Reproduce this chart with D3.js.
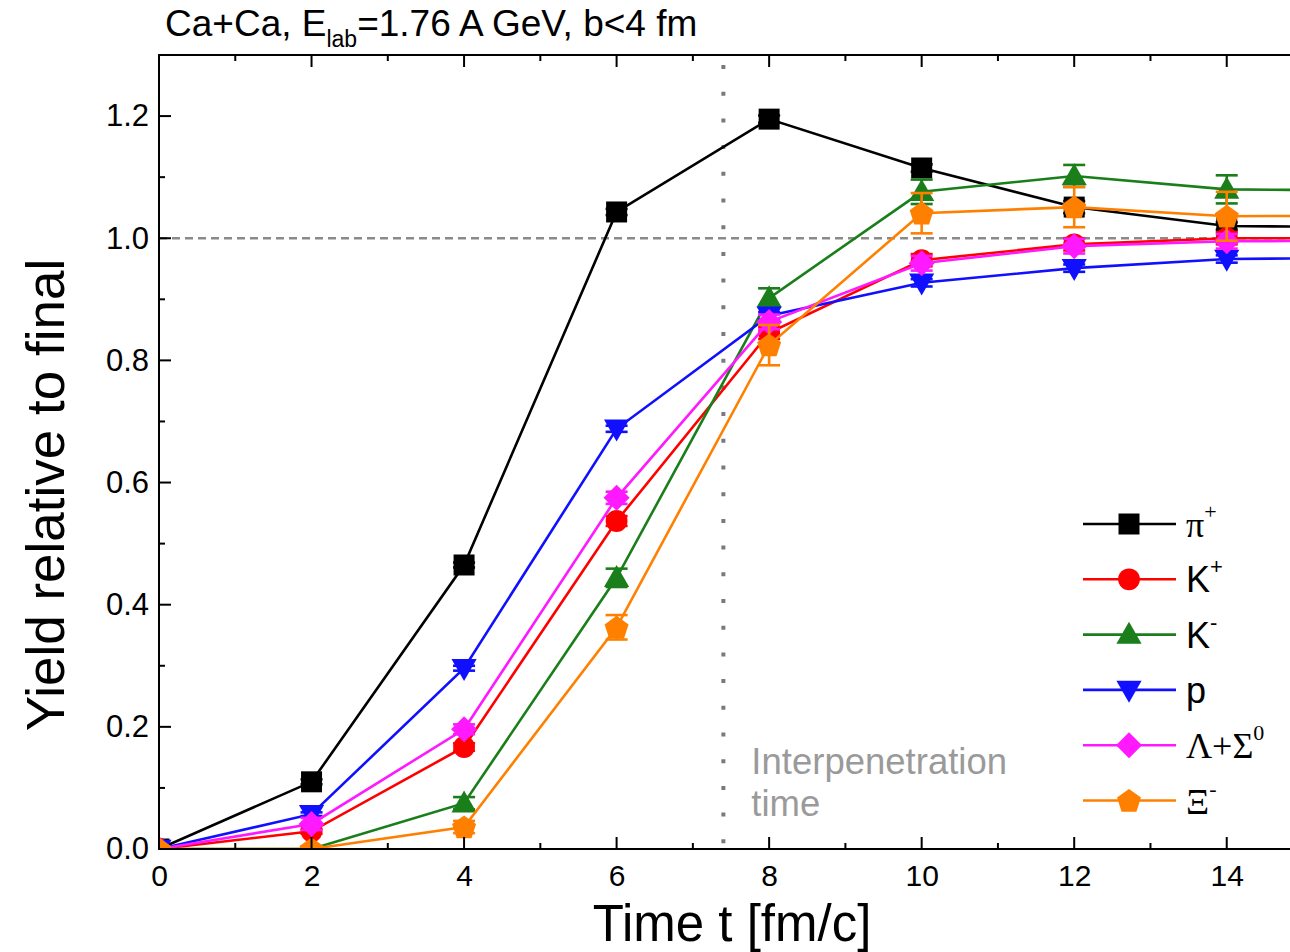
<!DOCTYPE html>
<html>
<head>
<meta charset="utf-8">
<script src="https://cdn.jsdelivr.net/npm/d3@7"></script>
<style>
  html, body { margin: 0; padding: 0; background: #fff; }
  svg { display: block; }
  text { font-family: "Liberation Sans", Arial, sans-serif; }
</style>
</head>
<body>
<svg id="chart" width="1290" height="952"></svg>
<script>
// Time steps (fm/c); the last one lies beyond the visible range
const times = [0, 2, 4, 6, 8, 10, 12, 14, 16];

// Yields relative to final value
const piPlus      = [0, 0.110, 0.465, 1.043, 1.195, 1.115, 1.051, 1.020, 1.018];
const kPlus       = [0, 0.029, 0.167, 0.537, 0.845, 0.964, 0.990, 1.000, 1.000];
const kMinus      = [0, 0.000, 0.075, 0.444, 0.902, 1.076, 1.102, 1.080, 1.078];
const proton      = [0, 0.057, 0.296, 0.688, 0.873, 0.927, 0.951, 0.966, 0.968];
const lambdaSigma = [0, 0.041, 0.196, 0.575, 0.863, 0.959, 0.987, 0.995, 0.996];
const xiMinus     = [0, 0.000, 0.036, 0.363, 0.825, 1.041, 1.051, 1.036, 1.037];

// Statistical errors
const piErr     = [0, 0.004, 0.004, 0.005, 0.006, 0.006, 0.010, 0.006, 0.006];
const kPlusErr  = [0, 0.004, 0.006, 0.008, 0.010, 0.010, 0.010, 0.010, 0.010];
const kMinusErr = [0, 0.004, 0.010, 0.015, 0.016, 0.020, 0.018, 0.023, 0.023];
const pErr      = [0, 0.003, 0.004, 0.005, 0.006, 0.006, 0.006, 0.006, 0.006];
const lamErr    = [0, 0.010, 0.008, 0.010, 0.012, 0.012, 0.012, 0.012, 0.012];
const xiErr     = [0, 0.004, 0.010, 0.020, 0.033, 0.033, 0.033, 0.040, 0.040];

const xTicks = [0, 2, 4, 6, 8, 10, 12, 14];
const yTicks = [0, 0.2, 0.4, 0.6, 0.8, 1.0, 1.2];
const interpenetrationTime = 7.4;

const series = [
  { name: "pi",  values: piPlus,      errs: piErr,     color: "#000000", shape: "square" },
  { name: "k+",  values: kPlus,       errs: kPlusErr,  color: "#ff0000", shape: "circle" },
  { name: "k-",  values: kMinus,      errs: kMinusErr, color: "#1a7f1a", shape: "triangleUp" },
  { name: "p",   values: proton,      errs: pErr,      color: "#1010ff", shape: "triangleDown" },
  { name: "lam", values: lambdaSigma, errs: lamErr,    color: "#ff19ff", shape: "diamond" },
  { name: "xi",  values: xiMinus,     errs: xiErr,     color: "#ff8000", shape: "pentagon" }
];

(function draw() {
const svg = d3.select("#chart");
const plotLeft = 159, plotRight = 1303, plotTop = 55, plotBottom = 849;
const markerSize = 21;

const x = d3.scaleLinear().domain([0, 15]).range([plotLeft, plotRight]);
const y = d3.scaleLinear().domain([0, 1.3]).range([plotBottom, plotTop]);

svg.append("defs").append("clipPath").attr("id", "plotClip")
  .append("rect").attr("x", plotLeft).attr("y", plotTop)
  .attr("width", plotRight - plotLeft).attr("height", plotBottom - plotTop);

// Marker path generators
function shapePath(shape, s) {
  switch (shape) {
    case "square": return `M${-s/2},${-s/2}h${s}v${s}h${-s}Z`;
    case "circle": { const r = s * 0.52; return `M${r},0A${r},${r} 0 1,1 ${-r},0A${r},${r} 0 1,1 ${r},0Z`; }
    case "triangleUp": { const w = s * 1.2, h = s * 1.05; return `M0,${-h*0.58}L${w/2},${h*0.42}L${-w/2},${h*0.42}Z`; }
    case "triangleDown": { const w = s * 1.2, h = s * 1.05; return `M0,${h*0.58}L${w/2},${-h*0.42}L${-w/2},${-h*0.42}Z`; }
    case "diamond": { const d = s * 0.62; return `M0,${-d}L${d},0L0,${d}L${-d},0Z`; }
    case "pentagon": {
      const r = s * 0.6; let p = "";
      for (let i = 0; i < 5; i++) {
        const a = -Math.PI / 2 + i * 2 * Math.PI / 5;
        p += (i ? "L" : "M") + (r * Math.cos(a)).toFixed(2) + "," + (r * Math.sin(a) + 1).toFixed(2);
      }
      return p + "Z";
    }
  }
}

// Reference lines
svg.append("line")
  .attr("x1", plotLeft).attr("x2", plotRight).attr("y1", y(1)).attr("y2", y(1))
  .attr("stroke", "#8a8a8a").attr("stroke-width", 2.5).attr("stroke-dasharray", "8,5");
svg.append("line")
  .attr("x1", x(interpenetrationTime)).attr("x2", x(interpenetrationTime))
  .attr("y1", plotTop + 10).attr("y2", plotBottom)
  .attr("stroke", "#7a7a7a").attr("stroke-width", 4).attr("stroke-dasharray", "4,22.7");

// Annotation
const ann = svg.append("text").attr("fill", "#9a9a9a").style("font-size", "36.5px");
ann.append("tspan").attr("x", x(interpenetrationTime) + 28).attr("y", 774).text("Interpenetration");
ann.append("tspan").attr("x", x(interpenetrationTime) + 28).attr("y", 816).text("time");

// Data
const plot = svg.append("g").attr("clip-path", "url(#plotClip)");
const line = d3.line().x(d => x(d.t)).y(d => y(d.v));

series.forEach(s => {
  const pts = times.map((t, i) => ({ t, v: s.values[i], e: s.errs[i] }));
  const g = plot.append("g");
  g.append("path").datum(pts).attr("d", line)
    .attr("fill", "none").attr("stroke", s.color).attr("stroke-width", 2.6);
  const eb = g.selectAll(".eb").data(pts.filter(d => d.e > 0)).join("g");
  eb.append("line").attr("x1", d => x(d.t)).attr("x2", d => x(d.t))
    .attr("y1", d => y(d.v - d.e)).attr("y2", d => y(d.v + d.e))
    .attr("stroke", s.color).attr("stroke-width", 2.6);
  [-1, 1].forEach(sign => {
    eb.append("line").attr("x1", d => x(d.t) - 11).attr("x2", d => x(d.t) + 11)
      .attr("y1", d => y(d.v + sign * d.e)).attr("y2", d => y(d.v + sign * d.e))
      .attr("stroke", s.color).attr("stroke-width", 2.6);
  });
  g.selectAll(".mk").data(pts).join("path")
    .attr("d", shapePath(s.shape, markerSize))
    .attr("transform", d => `translate(${x(d.t)},${y(d.v)})`)
    .attr("fill", s.color);
});

// Axes frame
const axG = svg.append("g");
axG.append("rect").attr("x", plotLeft).attr("y", plotTop)
  .attr("width", plotRight - plotLeft).attr("height", plotBottom - plotTop)
  .attr("fill", "none").attr("stroke", "#000").attr("stroke-width", 2);

const xMinor = d3.range(1, 15, 2);
const yMinor = d3.range(0.1, 1.3, 0.2);

function xTickMarks(vals, len) {
  vals.forEach(v => {
    axG.append("line").attr("x1", x(v)).attr("x2", x(v)).attr("y1", plotBottom).attr("y2", plotBottom - len)
      .attr("stroke", "#000").attr("stroke-width", 2);
    axG.append("line").attr("x1", x(v)).attr("x2", x(v)).attr("y1", plotTop).attr("y2", plotTop + len)
      .attr("stroke", "#000").attr("stroke-width", 2);
  });
}
function yTickMarks(vals, len) {
  vals.forEach(v => {
    axG.append("line").attr("x1", plotLeft).attr("x2", plotLeft + len).attr("y1", y(v)).attr("y2", y(v))
      .attr("stroke", "#000").attr("stroke-width", 2);
    axG.append("line").attr("x1", plotRight).attr("x2", plotRight - len).attr("y1", y(v)).attr("y2", y(v))
      .attr("stroke", "#000").attr("stroke-width", 2);
  });
}
xTickMarks(xTicks, 12); xTickMarks(xMinor, 6);
yTickMarks(yTicks, 12); yTickMarks(yMinor, 6);

// Tick labels
const xAxis = d3.axisBottom(x).tickValues(xTicks).tickSize(0).tickPadding(16).tickFormat(d3.format("d"));
svg.append("g").attr("transform", `translate(0,${plotBottom})`).call(xAxis)
  .call(g => g.select(".domain").remove())
  .selectAll("text").style("font-size", "30px").attr("fill", "#000")
  .style("font-family", "'Liberation Sans', Arial, sans-serif");

const yAxis = d3.axisLeft(y).tickValues(yTicks).tickSize(0).tickPadding(10).tickFormat(d3.format(".1f"));
svg.append("g").attr("transform", `translate(${plotLeft},0)`).call(yAxis)
  .call(g => g.select(".domain").remove())
  .selectAll("text").style("font-size", "31px").attr("fill", "#000")
  .style("font-family", "'Liberation Sans', Arial, sans-serif");

// Axis titles
svg.append("text").attr("x", 732).attr("y", 941)
  .attr("text-anchor", "middle").style("font-size", "51px").text("Time t [fm/c]");
svg.append("text").attr("transform", `translate(64,495) rotate(-90)`)
  .attr("text-anchor", "middle").style("font-size", "53px").text("Yield relative to final");

// Title
const title = svg.append("text").attr("x", 165).attr("y", 36).style("font-size", "37px");
title.append("tspan").text("Ca+Ca, E");
title.append("tspan").attr("dy", 11).style("font-size", "23px").text("lab");
title.append("tspan").attr("dy", -11).text("=1.76 A GeV, b<4 fm");

// Legend
const legendLabels = [
  { base: "π", sup: "+", serif: true },
  { base: "K", sup: "+", serif: false },
  { base: "K", sup: "-", serif: false },
  { base: "p", sup: "", serif: false },
  { base: "Λ+Σ", sup: "0", serif: true },
  { base: "Ξ", sup: "-", serif: true }
];
const legend = svg.append("g");
series.forEach((s, i) => {
  const ly = 524 + i * 55.3;
  legend.append("line").attr("x1", 1083).attr("x2", 1176).attr("y1", ly).attr("y2", ly)
    .attr("stroke", s.color).attr("stroke-width", 2.6);
  legend.append("path").attr("d", shapePath(s.shape, markerSize))
    .attr("transform", `translate(1129,${ly})`).attr("fill", s.color);
  const lab = legendLabels[i];
  const t = legend.append("text").attr("x", 1186).attr("y", ly + 13).style("font-size", "36px");
  t.append("tspan").text(lab.base)
    .style("font-family", lab.serif ? "'Liberation Serif', 'Times New Roman', serif" : null);
  if (lab.sup) {
    t.append("tspan").attr("dy", -18).style("font-size", "22px")
      .style("font-family", lab.serif ? "'Liberation Serif', serif" : null).text(lab.sup);
  }
});
})();
</script>
</body>
</html>
